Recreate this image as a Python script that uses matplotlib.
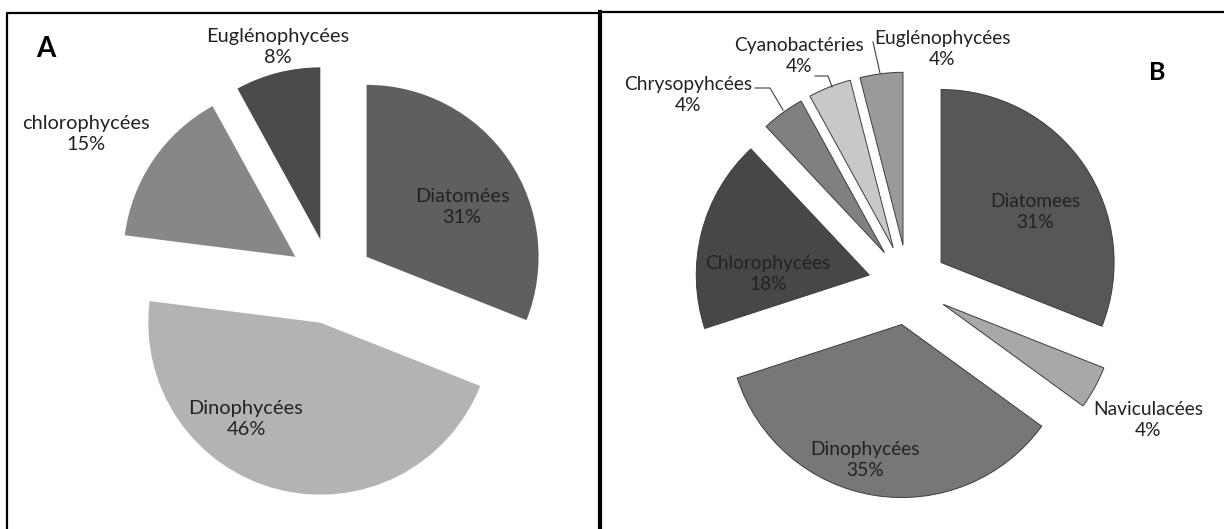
import matplotlib.pyplot as plt

# panel A
a_names = ["Diatomées", "Dinophycées", "chlorophycées", "Euglénophycées"]
a_values = [31, 46, 15, 8]
a_colors = ["#5f5f5f", "#b3b3b3", "#878787", "#4b4b4b"]

# panel B
b_names = ["Diatomees", "Naviculacées", "Dinophycées", "Chlorophycées",
           "Chrysopyhcées", "Cyanobactéries", "Euglénophycées"]
b_values = [31, 4, 35, 18, 4, 4, 4]
b_colors = ["#575757", "#a8a8a8", "#777777", "#474747", "#808080", "#c8c8c8", "#9a9a9a"]

W, H = 1224, 529
FONT = ["Lato", "DejaVu Sans"]
TXT = "#222222"


def y(v):
    # image rows (top down) to axes coords (bottom up)
    return H - v


fig = plt.figure(figsize=(W / 100, H / 100), dpi=100)
ax = fig.add_axes([0, 0, 1, 1])

# explode is in data units here (pixels), not a fraction of the radius
ax.pie(a_values, colors=a_colors, explode=[43] * len(a_values),
       startangle=90, counterclock=False, radius=172, center=(331, y(281)),
       wedgeprops=dict(linewidth=0))
ax.pie(b_values, colors=b_colors, explode=[40] * len(b_values),
       startangle=90, counterclock=False, radius=173, center=(908, y(285)),
       wedgeprops=dict(linewidth=0.7, edgecolor="#3c3c3c"))

a_label_pos = [(462, 207), (246, 419), (86, 134), (278, 47)]
b_label_pos = [(1035, 212), (1148, 420), (865, 460), (768, 274),
               (688, 95), (799, 56), (942, 49)]

for names, values, pos, fs in [(a_names, a_values, a_label_pos, 14.4),
                               (b_names, b_values, b_label_pos, 13.8)]:
    for n, v, (px, py) in zip(names, values, pos):
        ax.text(px, y(py), f"{n}\n{v}%", ha="center", va="center",
                fontsize=fs, family=FONT, color=TXT, linespacing=1.28)

# leader lines for the small slices of B
leaders = [
    [(755, 88), (770, 88), (783, 110)],
    [(815, 76), (828, 76), (832, 87)],
    [(873, 42), (880, 73)],
]
for pts in leaders:
    ax.plot([p[0] for p in pts], [y(p[1]) for p in pts], color="#404040", lw=0.8)

ax.text(46, y(49), "A", fontsize=20, fontweight="bold", family=FONT,
        ha="center", va="center", color="black")
ax.text(1157, y(73), "B", fontsize=18, fontweight="bold", family=FONT,
        ha="center", va="center", color="black")

# panel frames
ax.plot([7, 7, 600], [y(H + 5), y(13), y(13)], color="black", lw=1.6)
ax.plot([600, W], [y(12), y(12)], color="black", lw=1.6)
ax.plot([600, 600], [y(12), y(H + 5)], color="black", lw=3.0)

ax.set_xlim(0, W)
ax.set_ylim(0, H)
ax.axis("off")

fig.savefig("out.png", dpi=100, facecolor="white")
